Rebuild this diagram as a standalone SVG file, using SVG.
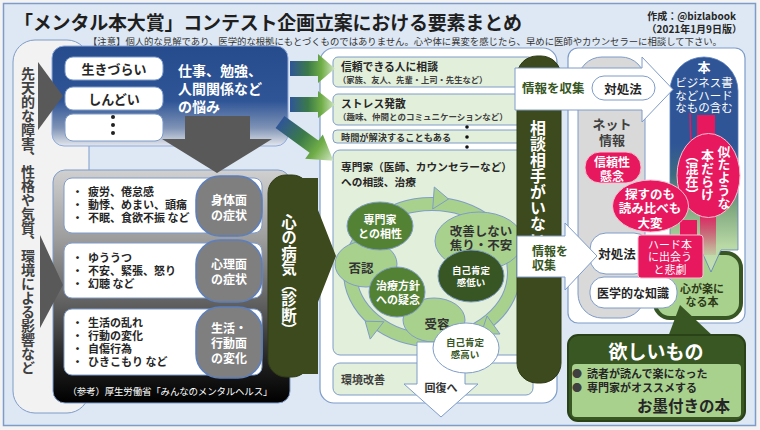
<svg xmlns="http://www.w3.org/2000/svg" width="760" height="430" viewBox="0 0 760 430">
<defs>
<style>
text{font-family:"Noto Sans CJK JP","Noto Sans",sans-serif;dominant-baseline:central}
.b{font-weight:bold}
.c{text-anchor:middle}
.v{writing-mode:vertical-rl}
.panel{fill:#fff;stroke:#7f9cc9;stroke-width:1.2}
.lgbox{fill:#e2efda;stroke:#7f9cc9;stroke-width:1}
.wbox{fill:#fff;stroke:#7f9cc9;stroke-width:1}
.gpill{fill:#7f7f7f;stroke:#5b7fbf;stroke-width:1.5}
.olive{fill:#3c4a1e;stroke:#2f3b16;stroke-width:1}
.pink{fill:#e8185e;stroke:#f5c0d2;stroke-width:1}
.lge{fill:#a9d18e;stroke:#7f9cc9;stroke-width:1}
.dge{fill:#548235;stroke:#7f9cc9;stroke-width:1}
.wt{fill:#fff}
.dk{fill:#262626}
.gt{fill:#375623}
</style>
<linearGradient id="gBlue" x1="0" y1="0" x2="0" y2="1">
<stop offset="0" stop-color="#264c8e"/>
<stop offset="0.55" stop-color="#2f5597"/>
<stop offset="0.82" stop-color="#7f93b5"/>
<stop offset="1" stop-color="#e4e7ec"/>
</linearGradient>
<linearGradient id="gBlack" x1="0" y1="0" x2="0" y2="1">
<stop offset="0" stop-color="#d0d0d0"/>
<stop offset="0.3" stop-color="#9c9c9c"/>
<stop offset="0.6" stop-color="#5a5a5a"/>
<stop offset="0.85" stop-color="#1c1c1c"/>
<stop offset="1" stop-color="#000"/>
</linearGradient>
<linearGradient id="gArr" x1="0" y1="0" x2="1" y2="0">
<stop offset="0" stop-color="#2f5597"/>
<stop offset="0.4" stop-color="#3b7a48"/>
<stop offset="0.7" stop-color="#70ad47"/>
<stop offset="1" stop-color="#d2e7c4"/>
</linearGradient>
<linearGradient id="gCol" x1="0" y1="0" x2="0" y2="1">
<stop offset="0" stop-color="#2f5597"/>
<stop offset="0.4" stop-color="#2f5597"/>
<stop offset="0.55" stop-color="#3e6a7e"/>
<stop offset="0.7" stop-color="#7fa77f"/>
<stop offset="0.88" stop-color="#b9d9a5"/>
<stop offset="1" stop-color="#c5e0b4"/>
</linearGradient>
<linearGradient id="gPinkFade" x1="0" y1="0" x2="0" y2="1">
<stop offset="0" stop-color="#e8185e"/>
<stop offset="1" stop-color="#e8185e" stop-opacity="0.1"/>
</linearGradient>
</defs>

<rect x="0" y="0" width="760" height="430" fill="#f3f3f3"/>
<rect id="frame" x="3.5" y="3.5" width="752" height="422" fill="#dde8f4" stroke="#7f9cc9" stroke-width="1.5"/>

<g id="header">
<text x="14" y="21" class="b" font-size="19" textLength="508" fill="#1f1f1f">「メンタル本大賞」コンテスト企画立案における要素まとめ</text>
<text class="b" font-size="10" text-anchor="end" fill="#262626"><tspan x="736" y="15">作成：@bizlabook</tspan><tspan x="742" y="28">（2021年1月9日版）</tspan></text>
<text x="88" y="41" font-size="9.4" textLength="634" fill="#333">【注意】個人的な見解であり、医学的な根拠にもとづくものではありません。心や体に異変を感じたら、早めに医師やカウンセラーに相談して下さい。</text>
</g>

<g id="factors">
<rect x="13" y="40" width="76" height="373" rx="22" fill="#f2f2f2" stroke="#7f9cc9"/>
<text x="28" y="67" class="b v" font-size="14" fill="#404040">先天的な障害、性格や気質、環境による影響など</text>
</g>

<g id="worries">
<rect x="52" y="46" width="236" height="100" rx="12" fill="url(#gBlue)" stroke="#8faadc"/>
<rect x="65" y="57" width="98" height="23" rx="8" class="wbox"/>
<text x="114" y="68.5" class="b c dk" font-size="13">生きづらい</text>
<rect x="65" y="87" width="98" height="23" rx="8" class="wbox"/>
<text x="114" y="98.5" class="b c dk" font-size="13">しんどい</text>
<rect x="65" y="114" width="98" height="27" rx="8" class="wbox"/>
<circle cx="113" cy="117" r="2" fill="#222"/>
<circle cx="113" cy="125" r="2" fill="#222"/>
<circle cx="113" cy="133" r="2" fill="#222"/>
<text class="b wt" font-size="14"><tspan x="178" y="70">仕事、勉強、</tspan><tspan x="178" y="88">人間関係など</tspan><tspan x="178" y="106">の悩み</tspan></text>
</g>

<g id="symptoms">
<rect x="53" y="170" width="237" height="233" rx="12" fill="url(#gBlack)" stroke="#7f9cc9"/>
<rect x="64" y="178" width="198" height="55" rx="8" class="wbox"/>
<text class="b dk" font-size="11"><tspan x="72" y="191">・</tspan><tspan x="88">疲労、倦怠感</tspan><tspan x="72" y="204">・</tspan><tspan x="88">動悸、めまい、頭痛</tspan><tspan x="72" y="217">・</tspan><tspan x="88">不眠、食欲不振 など</tspan></text>
<rect x="196" y="176" width="66" height="60" rx="24" class="gpill"/>
<text class="b c wt" font-size="12"><tspan x="229" y="199">身体面</tspan><tspan x="229" y="214">の症状</tspan></text>

<rect x="64" y="243" width="198" height="55" rx="8" class="wbox"/>
<text class="b dk" font-size="11"><tspan x="72" y="257">・</tspan><tspan x="88">ゆううつ</tspan><tspan x="72" y="270">・</tspan><tspan x="88">不安、緊張、怒り</tspan><tspan x="72" y="283">・</tspan><tspan x="88">幻聴 など</tspan></text>
<rect x="196" y="240" width="66" height="62" rx="24" class="gpill"/>
<text class="b c wt" font-size="12"><tspan x="229" y="263">心理面</tspan><tspan x="229" y="278">の症状</tspan></text>

<rect x="64" y="309" width="198" height="66" rx="8" class="wbox"/>
<text class="b dk" font-size="11"><tspan x="72" y="322">・</tspan><tspan x="88">生活の乱れ</tspan><tspan x="72" y="335">・</tspan><tspan x="88">行動の変化</tspan><tspan x="72" y="348">・</tspan><tspan x="88">自傷行為</tspan><tspan x="72" y="361">・</tspan><tspan x="88">ひきこもり など</tspan></text>
<rect x="196" y="307" width="66" height="71" rx="24" class="gpill"/>
<text class="b c wt" font-size="12"><tspan x="229" y="327">生活・</tspan><tspan x="229" y="342">行動面</tspan><tspan x="229" y="357">の変化</tspan></text>
<text x="170" y="391" class="c wt" font-size="9.5" textLength="205">（参考）厚生労働省「みんなのメンタルヘルス」</text>
</g>

<g id="consult">
<rect x="320" y="48" width="237" height="355" rx="14" class="panel"/>
<rect x="333" y="57" width="200" height="30" rx="5" class="lgbox"/>
<text class="b" fill="#262626"><tspan x="341" y="66" font-size="10.8">信頼できる人に相談</tspan><tspan x="338" y="78.5" font-size="8.3" fill="#404040">（家族、友人、先輩・上司・先生など）</tspan></text>
<rect x="333" y="94" width="200" height="31" rx="5" class="lgbox"/>
<text class="b" fill="#262626"><tspan x="341" y="103" font-size="10.8">ストレス発散</tspan><tspan x="338" y="116" font-size="8.5" fill="#404040">（趣味、仲間とのコミュニケーションなど）</tspan></text>
<rect x="333" y="130" width="200" height="13" rx="4" class="lgbox"/>
<text x="341" y="137" class="b" font-size="9.2" fill="#333">時間が解決することもある</text>
<circle cx="467" cy="127" r="1.8" fill="#111"/>
<circle cx="467" cy="137" r="1.8" fill="#111"/>
<circle cx="467" cy="147" r="1.8" fill="#111"/>
<rect x="333" y="150" width="200" height="205" rx="7" class="lgbox"/>
<text class="b dk" font-size="10.7"><tspan x="341" y="166">専門家（医師、カウンセラーなど）</tspan><tspan x="341" y="181">への相談、治療</tspan></text>
<rect x="333" y="363" width="200" height="32" rx="7" class="lgbox"/>
<text x="341" y="379" class="b" font-size="11" fill="#404040">環境改善</text>
</g>

<g id="cycle">
<ellipse cx="432" cy="272" rx="82" ry="68" fill="none" stroke="#7f9cc9" stroke-width="14"/>
<ellipse cx="432" cy="272" rx="82" ry="68" fill="none" stroke="#a9d18e" stroke-width="12"/>
<polygon points="432.7,209 434.3,187 448.5,199" class="lge"/>
<polygon points="487,316 500,334 481,334" class="lge"/>
<polygon points="383.8,321.7 370.2,339.1 365.2,321.2" class="lge"/>
</g>

<g id="denial">
<ellipse cx="366" cy="264" rx="31" ry="23" class="lge"/>
<text x="361" y="267" class="b c" font-size="12.5" fill="#333">否認</text>
</g>
<g id="compat">
<ellipse cx="380" cy="226" rx="33" ry="24" class="dge"/>
<text class="b c wt" font-size="11"><tspan x="380" y="219">専門家</tspan><tspan x="380" y="233">との相性</tspan></text>
</g>
<g id="acceptance">
<ellipse cx="434" cy="320" rx="31" ry="22" class="lge"/>
<text x="437" y="323" class="b c" font-size="12.5" fill="#333">受容</text>
</g>
<g id="doubt">
<ellipse cx="397" cy="292" rx="28" ry="25" class="dge"/>
<text class="b c wt" font-size="11"><tspan x="398" y="285">治療方針</tspan><tspan x="398" y="298.5">への疑念</tspan></text>
</g>
<g id="anxiety">
<ellipse cx="479" cy="241" rx="44" ry="29" class="lge"/>
<text class="b c" font-size="12.5" fill="#333"><tspan x="481" y="230">改善しない</tspan><tspan x="481" y="244">焦り・不安</tspan></text>
</g>
<g id="low-esteem">
<ellipse cx="471" cy="276" rx="33" ry="26" fill="#375623" stroke="#7f9cc9"/>
<text class="b c wt" font-size="9.5"><tspan x="471" y="270">自己肯定</tspan><tspan x="471" y="282">感低い</tspan></text>
</g>
<g id="recovery">
<polygon points="417,342 465,342 465,384 478,384 441,417 404,384 417,384" fill="#fff" stroke="#7f9cc9"/>
<text x="441" y="387" class="b c" font-size="11" fill="#333">回復へ</text>
</g>
<g id="high-esteem">
<ellipse cx="466" cy="348" rx="33" ry="25" fill="#fff" stroke="#7f9cc9"/>
<text class="b c gt" font-size="9.5"><tspan x="465" y="342">自己肯定</tspan><tspan x="465" y="354">感高い</tspan></text>
</g>

<g id="illness">
<rect x="268" y="175" width="42" height="202" rx="18" class="olive"/>
<text x="289" y="214" class="b v wt" font-size="15.5">心の病気（診断）</text>
</g>

<g id="no-partner">
<rect x="517" y="56" width="44" height="327" rx="20" class="olive"/>
<text x="538" y="120" class="b v wt" font-size="16">相談相手がいない</text>
</g>

<g id="books-panel">
<rect x="568" y="48" width="177" height="275" rx="10" class="panel"/>
</g>
<g id="net-info">
<rect x="578" y="57" width="67" height="261" rx="24" fill="#d9d9d9" stroke="#7f9cc9"/>
<text class="b c" font-size="13" fill="#404040"><tspan x="612" y="123">ネット</tspan><tspan x="612" y="139">情報</tspan></text>
</g>
<g id="relief-book">
<rect x="655" y="253" width="86" height="65" rx="15" fill="#a9d18e" stroke="#375623" stroke-width="4"/>
<text class="b c" font-size="11" fill="#2d3a17"><tspan x="702" y="288">心が楽に</tspan><tspan x="702" y="301">なる本</tspan></text>
</g>
<g id="medical">
<rect x="590" y="277" width="87" height="31" rx="14" class="wbox"/>
<text x="633" y="292" class="b c dk" font-size="12">医学的な知識</text>
</g>
<g id="coping2">
<rect x="590" y="233" width="60" height="41" rx="16" class="wbox"/>
<text x="617" y="253.5" class="b c dk" font-size="12.5">対処法</text>
</g>
<g id="books">
<path d="M670,91 A34,34 0 0 1 738,91 L738,250 L721,250 L711,272 L701,250 L670,250 Z" fill="url(#gCol)" stroke="#5b7fbf" stroke-width="0.8"/>
<text x="704" y="66" class="b c wt" font-size="13">本</text>
<text class="c wt" font-size="11.5"><tspan x="704" y="82">ビジネス書</tspan><tspan x="704" y="94.5">などハード</tspan><tspan x="704" y="107">なもの含む</tspan></text>
</g>
<g id="trust">
<rect x="585" y="152" width="56" height="31" rx="15" class="pink"/>
<text class="b c wt" font-size="12"><tspan x="612" y="161">信頼性</tspan><tspan x="612" y="175">懸念</tspan></text>
</g>
<g id="similar">
<rect x="697" y="115" width="18" height="25" fill="#e8185e"/>
<line x1="690" y1="113" x2="691" y2="150" stroke="#e8185e" stroke-width="1.5"/>
<rect x="700" y="210" width="16" height="45" fill="url(#gPinkFade)"/>
<ellipse cx="708.5" cy="175.5" rx="31.5" ry="42" class="pink"/>
<text class="b c v wt" font-size="13"><tspan x="724" y="177">似たような</tspan><tspan x="707.5" y="175">本だらけ</tspan><tspan x="692" y="175">（混在）</tspan></text>
</g>
<g id="hard-search">
<rect x="680" y="220" width="17" height="18" fill="#e8185e"/>
<ellipse cx="650.5" cy="206" rx="38" ry="26" class="pink"/>
<text class="b c wt" font-size="12.5"><tspan x="650" y="192.5">探すのも</tspan><tspan x="650" y="207">読み比べも</tspan><tspan x="650" y="221.5">大変</tspan></text>
</g>
<g id="tragedy">
<rect x="638" y="235" width="65" height="43" rx="3" fill="#e8185e" stroke="#f5c0d2"/>
<text class="c wt" font-size="11"><tspan x="670" y="243.5">ハード本</tspan><tspan x="670" y="256">に出会う</tspan><tspan x="670" y="268.5">と悲劇</tspan></text>
</g>
<g id="wanted">
<polygon points="668,337 680,305 714,337" fill="#385723"/>
<rect x="568" y="335" width="177" height="86" rx="10" fill="#385723" stroke="#2a4218" stroke-width="2"/>
<text x="656" y="350" class="b c wt" font-size="19">欲しいもの</text>
<rect x="572" y="364" width="169" height="53" rx="4" fill="#a9d18e"/>
<text font-size="11" class="b dk"><tspan x="572" y="373" font-size="10" font-weight="normal" fill="#404040">●</tspan><tspan x="587">読者が読んで楽になった</tspan><tspan x="572" y="387" font-size="10" font-weight="normal" fill="#404040">●</tspan><tspan x="587">専門家がオススメする</tspan><tspan x="730" y="405" font-size="15.5" text-anchor="end">お墨付きの本</tspan></text>
</g>

<g id="connectors">
<polygon points="38,62 63,96 38,130" fill="#595959"/>
<polygon points="40,235 63,285 40,328" fill="#595959"/>
<polygon points="185,116 250,116 250,139 272,139 217,173 162,139 185,139" fill="#595959"/>
<path d="M290,61 H318 V54 L335,68.5 L318,83 V76 H290 Z" fill="url(#gArr)"/>
<path d="M290,97 H318 V91 L335,104.5 L318,118 V112 H290 Z" fill="url(#gArr)"/>
<path d="M0,-7.5 H42 V-15 L66,0 L42,15 V7.5 H0 Z" fill="url(#gArr)" transform="translate(280,122) rotate(36)"/>
<polygon points="300,178 318,178 318,210 336,256 318,302 318,374 300,374" fill="#3c4a1e"/>
</g>

<g id="gather1">
<path d="M515,68 H642 V57 L673,89.5 L642,122 V110 H515 Z" fill="#fff" stroke="#7f9cc9"/>
<text x="522" y="87" class="b gt" font-size="12.5">情報を収集</text>
<rect x="592" y="76" width="63" height="24" rx="12" class="wbox"/>
<text x="623" y="88" class="b c dk" font-size="12.5">対処法</text>
</g>
<g id="gather2">
<path d="M517,236 H565 V223 L597,256 L565,290 V277 H517 Z" fill="#fff" stroke="#7f9cc9"/>
<text class="b gt" font-size="12"><tspan x="532" y="250">情報を</tspan><tspan x="532" y="264">収集</tspan></text>
</g>
</svg>
